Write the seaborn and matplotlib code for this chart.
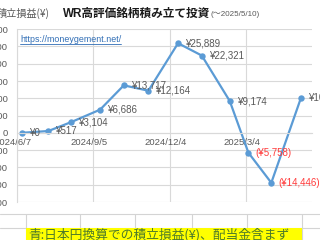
import matplotlib
matplotlib.use('Agg')
import matplotlib.pyplot as plt
import matplotlib.transforms as mtrans
from matplotlib.lines import Line2D
from matplotlib.patches import Rectangle
from matplotlib.ticker import FuncFormatter
import seaborn as sns
import pandas as pd

# ---- data ----
dates = ["2024-06-13", "2024-07-14", "2024-08-10", "2024-09-13", "2024-10-11", "2024-11-09",
         "2024-12-14", "2025-01-11", "2025-02-13", "2025-03-07", "2025-04-03", "2025-05-08"]
profit = [0, 517, 3104, 6686, 13717, 12164, 25889, 22321, 9174, -5758, -14446, 10098]
tick_dates = ["2024-06-07", "2024-09-05", "2024-12-04", "2025-03-04"]
tick_labels = ["2024/6/7", "2024/9/5", "2024/12/4", "2025/3/4"]
y_ticks = [-20000, -15000, -10000, -5000, 0, 5000, 10000, 15000, 20000, 25000, 30000]
title_main = "WR高評価銘柄積み立て投資"
title_sub = "(～2025/5/10)"
y_title = "積立損益(¥)"
url = "https://moneygement.net/"
note = "青:日本円換算での積立損益(¥)、配当金含まず"

sns.set_theme(style="white")
plt.rcParams['font.family'] = ['Liberation Sans', 'Noto Sans CJK JP', 'DejaVu Sans']

W, H = 320, 240
fig = plt.figure(figsize=(3.2, 2.4), dpi=100)
fig.patch.set_facecolor('white')

def fx(px):
    return px / W

def fy(py):
    return 1 - py / H

ax = fig.add_axes([fx(17), fy(202), fx(312) - fx(17), fy(29) - fy(202)])
df = pd.DataFrame({"date": pd.to_datetime(dates), "profit": profit})
sns.lineplot(data=df, x="date", y="profit", ax=ax, color="#5B9BD5", linewidth=1.6,
             marker="o", markersize=4.6, markeredgewidth=0, markerfacecolor="#5B9BD5")

ax.set_ylim(-20000, 30000)
ax.set_yticks(y_ticks)
ax.yaxis.set_major_formatter(FuncFormatter(lambda v, p: f"{int(v):,}"))
ax.set_xlim(pd.Timestamp("2024-06-07"), pd.Timestamp("2025-05-21"))
ax.set_xticks(pd.to_datetime(tick_dates))
ax.set_xticklabels(tick_labels)
ax.grid(True, color="#d9d9d9", linewidth=0.8)
ax.set_axisbelow(True)
for s in ["top", "right"]:
    ax.spines[s].set_visible(False)
ax.spines["left"].set_color("#d9d9d9")
ax.spines["left"].set_linewidth(0.8)
ax.spines["bottom"].set_position(("data", 0))
ax.spines["bottom"].set_color("#d9d9d9")
ax.spines["bottom"].set_linewidth(0.8)
ax.tick_params(axis="both", length=0, labelsize=6.8, labelcolor="#595959")
ax.tick_params(axis="y", pad=6.5)
ax.tick_params(axis="x", pad=3.5)
shift = mtrans.ScaledTranslation(-4 / 100, 0, fig.dpi_scale_trans)
for lab in ax.get_xticklabels():
    lab.set_transform(lab.get_transform() + shift)
ax.set_xlabel("")
ax.set_ylabel("")
if ax.get_legend():
    ax.get_legend().remove()

# data labels
for d, v in zip(df["date"], df["profit"]):
    if v < 0:
        txt = f"(¥{abs(v):,})"
        col = "#ff3b3b"
    else:
        txt = f"¥{v:,}"
        col = "#595959"
    ax.annotate(txt, (d, v), xytext=(7, 0), textcoords="offset pixels",
                ha="left", va="center", fontsize=7.0, color=col, annotation_clip=False)

# titles
t_main = fig.text(fx(63), fy(14), title_main, ha="left", va="center", fontsize=8.4,
                  fontweight="bold", color="#1a1a1a",
                  family=['Liberation Sans', 'Noto Sans CJK JP'])
fig.text(fx(-3), fy(13.5), y_title, ha="left", va="center", fontsize=7.3, color="#595959",
         family=['Noto Sans CJK JP', 'DejaVu Sans'])
fig.canvas.draw()
r = fig.canvas.get_renderer()
bb = t_main.get_window_extent(r)
fig.text(bb.x1 / W + fx(0.5), fy(14.5), title_sub, ha="left", va="center", fontsize=5.8,
         color="#595959", family=['Liberation Sans', 'Noto Sans CJK JP'])

# url
t_url = fig.text(fx(20), fy(40), url, ha="left", va="center", fontsize=6.4, color="#2f6db5",
                 family=['Liberation Sans'])
fig.canvas.draw()
ub = t_url.get_window_extent(r)
fig.add_artist(Line2D([ub.x0 / W, ub.x1 / W], [ub.y0 / H + 0.5 / H] * 2,
                      transform=fig.transFigure, color="#2f6db5", linewidth=0.6))

# spreadsheet cells below
cell_col = "#d4d4d4"
fig.add_artist(Line2D([0, 1], [fy(213.5)] * 2, transform=fig.transFigure, color=cell_col, linewidth=0.8))
fig.add_artist(Line2D([0, 1], [fy(227.5)] * 2, transform=fig.transFigure, color=cell_col, linewidth=0.8))
for xc in [26, 80, 135, 192, 247, 302]:
    fig.add_artist(Line2D([fx(xc)] * 2, [fy(213.5), fy(240)], transform=fig.transFigure,
                          color=cell_col, linewidth=0.8))
fig.add_artist(Rectangle((fx(26), fy(242)), fx(302) - fx(26), fy(228) - fy(242),
                         transform=fig.transFigure, facecolor="#ffff00", edgecolor="none", zorder=5))
fig.text(fx(28), fy(235), note, ha="left", va="center", fontsize=9.2, color="#4d7a2a",
         family=['Noto Sans CJK JP', 'DejaVu Sans'], zorder=6)

fig.savefig("out.png", dpi=100, facecolor="white")
